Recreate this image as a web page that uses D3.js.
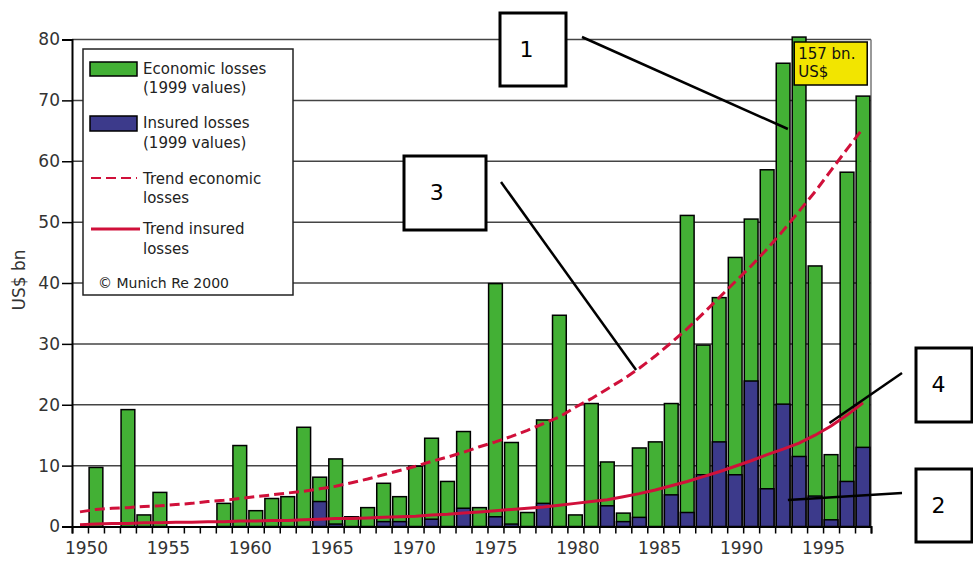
<!DOCTYPE html>
<html lang="en">

<head>
    <meta charset="UTF-8">
    <title>Great natural catastrophes 1950-1999</title>
    <script src="https://d3js.org/d3.v7.min.js"></script>
    <style>
        body { margin: 0; background: white; }
        svg text { font-family: "DejaVu Sans", sans-serif; }
    </style>
</head>

<body>
    <script>
        // categories: one bar per year
        const years = d3.range(1950, 2000);

        // economic losses, US$ bn (1999 values)
        const economicLosses = [0, 9.7, 0, 19.2, 1.9, 5.6, 0, 0, 0, 3.8,
            13.3, 2.6, 4.6, 4.9, 16.3, 8.1, 11.1, 1.6, 3.1, 7.1,
            4.9, 9.9, 14.5, 7.4, 15.6, 3.1, 39.9, 13.8, 2.3, 17.5,
            34.7, 1.9, 20.2, 10.6, 2.2, 12.9, 13.9, 20.2, 51.1, 29.8,
            37.6, 44.2, 50.5, 58.6, 76.1, 157, 42.8, 11.8, 58.2, 70.7];

        // insured losses, US$ bn (1999 values)
        const insuredLosses = [0, 0, 0, 0, 0, 0, 0, 0, 0, 0,
            0, 0, 0, 0, 0, 4.1, 0.4, 0, 0, 0.8,
            0.8, 0, 1.2, 0, 3.0, 0, 1.6, 0.4, 0, 3.8,
            0, 0, 0, 3.4, 0.8, 1.5, 0, 5.2, 2.3, 8.5,
            13.9, 8.5, 23.9, 6.2, 20.1, 11.5, 5.0, 1.1, 7.4, 13.0];

        // trend curves
        const trendEconomic = [2.4, 2.8, 3.0, 3.1, 3.3, 3.4, 3.6, 3.8, 4.1, 4.3,
            4.6, 4.9, 5.2, 5.5, 5.8, 6.2, 6.6, 7.2, 7.8, 8.5,
            9.2, 9.9, 10.7, 11.4, 12.2, 13.1, 13.9, 14.8, 15.8, 16.9,
            18.0, 19.6, 21.0, 22.6, 24.2, 26.0, 28.0, 30.2, 32.5, 35.0,
            37.6, 40.2, 42.8, 45.6, 48.6, 51.8, 55.0, 58.5, 62.0, 65.4];

        const trendInsured = [0.3, 0.4, 0.5, 0.5, 0.6, 0.6, 0.7, 0.7, 0.8, 0.8,
            0.9, 0.9, 1.0, 1.0, 1.1, 1.2, 1.3, 1.3, 1.4, 1.5,
            1.6, 1.7, 1.9, 2.0, 2.2, 2.4, 2.6, 2.8, 3.0, 3.2,
            3.5, 3.8, 4.1, 4.4, 4.9, 5.4, 6.0, 6.7, 7.4, 8.2,
            9.0, 9.9, 10.8, 11.8, 12.7, 13.7, 15.0, 16.5, 18.3, 20.3];

        const yTicks = [0, 10, 20, 30, 40, 50, 60, 70, 80];
        const xLabels = [1950, 1955, 1960, 1965, 1970, 1975, 1980, 1985, 1990, 1995];

        // numbered call-outs: box in page pixels, tip in data units (year, US$ bn)
        const callouts = [
            { label: "1", box: [500, 13, 66, 73], from: [582, 37], tip: [1994.8, 65.3] },
            { label: "3", box: [404, 156, 82, 74], from: [501, 182], tip: [1985.3, 25.7] },
            { label: "4", box: [916, 348, 56, 74], from: [902, 373], tip: [1997.4, 17.0] },
            { label: "2", box: [916, 469, 56, 73], from: [902, 493], tip: [1994.8, 4.35] }
        ];

        const width = 973;
        const height = 561;
        const plotLeft = 72, plotRight = 871, plotTop = 39.5, plotBottom = 526.5;
        const shownMax = 80.4;   // the 1995 bar is cut just above the frame

        const green = "#43b035";
        const navy = "#3c3a8b";
        const red = "#d0103a";

        const data = years.map((yr, i) => ({
            year: yr,
            econ: economicLosses[i],
            ins: insuredLosses[i],
            tEcon: trendEconomic[i],
            tIns: trendInsured[i]
        }));

        const svg = d3.select("body").append("svg")
            .attr("width", width)
            .attr("height", height)
            .style("background", "white");

        const x = d3.scaleBand()
            .domain(years)
            .range([plotLeft, plotRight])
            .paddingInner(0.14)
            .paddingOuter(0.07);

        // continuous year scale for tick marks and call-out tips
        const xEdge = d3.scaleLinear().domain([1950, 2000]).range([plotLeft, plotRight]);
        // labels on the original sit a little off the bar grid
        const xLabel = d3.scaleLinear().domain([1950, 1995]).range([86, 823]);

        const y = d3.scaleLinear().domain([0, 80]).range([plotBottom, plotTop]);

        // grid
        svg.append("g")
            .selectAll("line")
            .data(yTicks.filter(d => d > 0))
            .enter()
            .append("line")
            .attr("x1", plotLeft).attr("x2", plotRight)
            .attr("y1", d => y(d)).attr("y2", d => y(d))
            .attr("stroke", "#444")
            .attr("stroke-width", 1.5);

        // right border
        svg.append("line")
            .attr("x1", plotRight).attr("x2", plotRight)
            .attr("y1", plotTop).attr("y2", plotBottom)
            .attr("stroke", "#777")
            .attr("stroke-width", 1.5);

        // bars
        const bars = svg.append("g");
        bars.selectAll(".econ")
            .data(data.filter(d => d.econ > 0))
            .enter()
            .append("rect")
            .attr("class", "econ")
            .attr("x", d => x(d.year))
            .attr("width", x.bandwidth())
            .attr("y", d => y(Math.min(d.econ, shownMax)))
            .attr("height", d => y(0) - y(Math.min(d.econ, shownMax)))
            .attr("fill", green)
            .attr("stroke", "black")
            .attr("stroke-width", 1.5);

        bars.selectAll(".ins")
            .data(data.filter(d => d.ins > 0))
            .enter()
            .append("rect")
            .attr("class", "ins")
            .attr("x", d => x(d.year))
            .attr("width", x.bandwidth())
            .attr("y", d => y(d.ins))
            .attr("height", d => y(0) - y(d.ins))
            .attr("fill", navy)
            .attr("stroke", "black")
            .attr("stroke-width", 1.5);

        // trend lines
        const cx = d => x(d.year) + x.bandwidth() / 2;
        svg.append("path")
            .datum(data)
            .attr("fill", "none")
            .attr("stroke", red)
            .attr("stroke-width", 3)
            .attr("stroke-dasharray", "10,5")
            .attr("d", d3.line().x(cx).y(d => y(d.tEcon)));

        svg.append("path")
            .datum(data)
            .attr("fill", "none")
            .attr("stroke", red)
            .attr("stroke-width", 3)
            .attr("d", d3.line().x(cx).y(d => y(d.tIns)));

        // y axis
        const yAxis = svg.append("g")
            .attr("transform", "translate(" + plotLeft + ",0)")
            .call(d3.axisLeft(y).tickValues(yTicks).tickSize(10).tickPadding(2));
        yAxis.select(".domain").attr("stroke", "black").attr("stroke-width", 2);
        yAxis.selectAll(".tick line").attr("stroke", "black").attr("stroke-width", 1.5);
        yAxis.selectAll("text")
            .attr("font-size", 17)
            .attr("font-family", "DejaVu Sans")
            .attr("fill", "#333");

        svg.append("text")
            .attr("transform", "translate(25,280) rotate(-90)")
            .attr("text-anchor", "middle")
            .attr("font-size", 17)
            .attr("fill", "#333")
            .text("US$ bn");

        // x axis: tick marks on year boundaries
        const xTickAxis = svg.append("g")
            .attr("transform", "translate(0," + plotBottom + ")")
            .call(d3.axisBottom(xEdge).tickValues(d3.range(1950, 2001)).tickSize(7).tickFormat(""));
        xTickAxis.select(".domain").attr("stroke", "black").attr("stroke-width", 2);
        xTickAxis.selectAll(".tick line").attr("stroke", "black").attr("stroke-width", 1.5);

        // x axis labels
        const xLabelAxis = svg.append("g")
            .attr("transform", "translate(0," + plotBottom + ")")
            .call(d3.axisBottom(xLabel).tickValues(xLabels).tickFormat(d3.format("d")).tickSize(0).tickPadding(15));
        xLabelAxis.select(".domain").remove();
        xLabelAxis.selectAll("text")
            .attr("font-size", 17)
            .attr("font-family", "DejaVu Sans")
            .attr("fill", "#333");

        // legend
        const legend = svg.append("g");
        legend.append("rect")
            .attr("x", 83).attr("y", 49).attr("width", 210).attr("height", 246)
            .attr("fill", "white").attr("stroke", "#222").attr("stroke-width", 1.5);
        legend.append("rect")
            .attr("x", 90).attr("y", 62).attr("width", 47).attr("height", 14)
            .attr("fill", green).attr("stroke", "black").attr("stroke-width", 1.5);
        legend.append("rect")
            .attr("x", 90).attr("y", 116).attr("width", 47).attr("height", 15)
            .attr("fill", navy).attr("stroke", "black").attr("stroke-width", 1.5);
        legend.append("line")
            .attr("x1", 91).attr("x2", 137).attr("y1", 178).attr("y2", 178)
            .attr("stroke", red).attr("stroke-width", 1.8).attr("stroke-dasharray", "10,5");
        legend.append("line")
            .attr("x1", 91).attr("x2", 140).attr("y1", 229).attr("y2", 229)
            .attr("stroke", red).attr("stroke-width", 3);

        const legendText = [
            ["Economic losses", 74], ["(1999 values)", 93],
            ["Insured losses", 128], ["(1999 values)", 148],
            ["Trend economic", 184], ["losses", 203],
            ["Trend insured", 234], ["losses", 254]
        ];
        legend.selectAll(".lt")
            .data(legendText)
            .enter()
            .append("text")
            .attr("class", "lt")
            .attr("x", 143)
            .attr("y", d => d[1])
            .attr("font-size", 15)
            .attr("fill", "#222")
            .text(d => d[0]);
        legend.append("text")
            .attr("x", 98).attr("y", 288)
            .attr("font-size", 14)
            .attr("fill", "#222")
            .text("\u00a9 Munich Re 2000");

        // 157 bn label on the cut 1995 bar
        const big = data.find(d => d.econ > shownMax);
        svg.append("rect")
            .attr("x", x(big.year) + 2).attr("y", 42).attr("width", 73).attr("height", 43)
            .attr("fill", "#f2e500").attr("stroke", "black").attr("stroke-width", 1.5);
        svg.append("text")
            .attr("x", x(big.year) + 6).attr("y", 59)
            .attr("font-size", 15).attr("fill", "#111")
            .text(big.econ + " bn.");
        svg.append("text")
            .attr("x", x(big.year) + 6).attr("y", 77)
            .attr("font-size", 15).attr("fill", "#111")
            .text("US$");

        // call-outs
        const co = svg.append("g");
        co.selectAll("line")
            .data(callouts)
            .enter()
            .append("line")
            .attr("x1", d => d.from[0]).attr("y1", d => d.from[1])
            .attr("x2", d => xEdge(d.tip[0])).attr("y2", d => y(d.tip[1]))
            .attr("stroke", "black")
            .attr("stroke-width", 2.5);
        co.selectAll("rect")
            .data(callouts)
            .enter()
            .append("rect")
            .attr("x", d => d.box[0]).attr("y", d => d.box[1])
            .attr("width", d => d.box[2]).attr("height", d => d.box[3])
            .attr("fill", "white")
            .attr("stroke", "black")
            .attr("stroke-width", 3);
        co.selectAll("text")
            .data(callouts)
            .enter()
            .append("text")
            .attr("x", d => d.box[0] + d.box[2] * 0.4)
            .attr("y", d => d.box[1] + d.box[3] * 0.5 + 7)
            .attr("text-anchor", "middle")
            .attr("font-family", "Liberation Serif, serif")
            .attr("font-size", 22)
            .attr("fill", "black")
            .text(d => d.label);
    </script>
</body>

</html>
